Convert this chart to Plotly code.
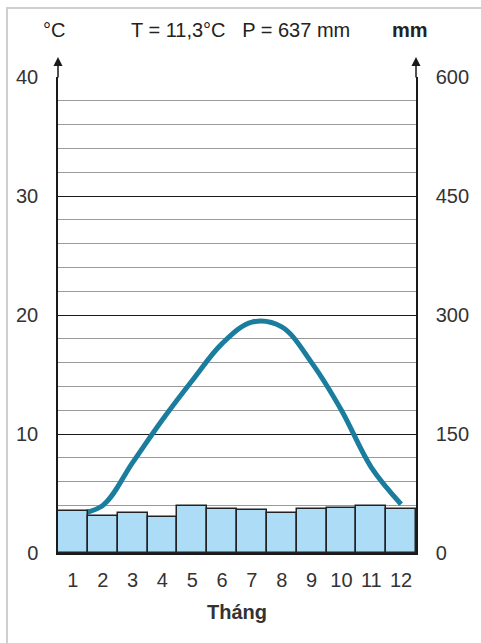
import plotly.graph_objects as go

months = list(range(1, 13))
month_labels = [str(m) for m in months]
temperature = [3.2, 4.0, 7.6, 11.2, 14.5, 17.6, 19.4, 19.0, 16.0, 12.0, 7.2, 4.1]
precipitation = [53, 47, 51, 45, 59, 56, 54, 50, 55, 57, 59, 55]
temp_ticks = [0, 10, 20, 30, 40]
rain_ticks = [0, 150, 300, 450, 600]

FONT = "Liberation Sans Narrow, Arial Narrow, Liberation Sans, sans-serif"

fig = go.Figure()
fig.add_trace(go.Bar(
    x=months, y=precipitation, yaxis="y2", width=1.0,
    marker=dict(color="#acdcf6", line=dict(color="#222222", width=1.5)),
    showlegend=False, hoverinfo="skip"))
fig.add_trace(go.Scatter(
    x=months, y=temperature, yaxis="y", mode="lines",
    line=dict(color="#1a7d9e", width=5, shape="spline", smoothing=1.0),
    showlegend=False, hoverinfo="skip"))

L, R, T, B = 58, 65, 77, 90
W, H = 481, 643
pw = W - L - R
ph = H - T - B

def px(xp):
    return (xp - L) / pw

def py(yp):
    return (H - B - yp) / ph

fig.update_layout(
    width=W, height=H,
    margin=dict(l=L, r=R, t=T, b=B, pad=0),
    paper_bgcolor="white", plot_bgcolor="white",
    font=dict(family=FONT, size=20, color="#333333"),
    bargap=0,
    xaxis=dict(range=[0.5, 12.5], tickvals=months, ticktext=month_labels,
               showgrid=False, zeroline=False, showline=True,
               linecolor="#1a1a1a", linewidth=2, ticks="",
               ticklabelstandoff=8,
               tickfont=dict(size=20, color="#333333"),
               title=dict(text="<b>Tháng</b>", standoff=15,
                          font=dict(size=20, color="#333333"))),
    yaxis=dict(range=[0, 40], tickvals=temp_ticks, showgrid=True,
               gridcolor="#1a1a1a", gridwidth=1.2, zeroline=False,
               showline=True, linecolor="#1a1a1a", linewidth=1.5,
               ticks="", ticklabelstandoff=14,
               tickfont=dict(size=20, color="#333333"),
               minor=dict(dtick=2, showgrid=True, gridcolor="#9a9a9a",
                          gridwidth=1)),
    yaxis2=dict(range=[0, 600], tickvals=rain_ticks, overlaying="y",
                side="right", showgrid=False, zeroline=False,
                showline=True, linecolor="#1a1a1a", linewidth=1.5,
                ticks="", ticklabelstandoff=14,
                tickfont=dict(size=20, color="#333333")),
)

annotations = [
    dict(x=px(54), y=py(30), xref="paper", yref="paper", text="°C",
         xanchor="center", yanchor="middle",
         showarrow=False, font=dict(size=20, color="#222222")),
    dict(x=px(240), y=py(30), xref="paper", yref="paper",
         text="T = 11,3°C   P = 637 mm", xanchor="center", yanchor="middle",
         showarrow=False, font=dict(size=20, color="#222222")),
    dict(x=px(410), y=py(30), xref="paper", yref="paper", text="<b>mm</b>",
         xanchor="center", yanchor="middle",
         showarrow=False, font=dict(size=20, color="#222222")),
]
for xa in (0, 1):
    annotations.append(dict(
        x=xa, y=py(57), xref="paper", yref="paper", text="",
        showarrow=True, ax=0, ay=22, arrowhead=2, arrowsize=1.2,
        arrowwidth=1.5, arrowcolor="#1a1a1a"))
fig.update_layout(annotations=annotations)

fig.update_layout(shapes=[
    dict(type="line", xref="paper", yref="paper", x0=px(7), x1=px(7),
         y0=py(8), y1=py(643), line=dict(color="#cfcfcf", width=2)),
    dict(type="line", xref="paper", yref="paper", x0=px(6), x1=px(481),
         y0=py(8), y1=py(8), line=dict(color="#cfcfcf", width=2)),
])

fig.write_html("out.html",
               config={"displayModeBar": False},
               post_script="document.body.style.margin='0';document.body.style.overflow='hidden';")
